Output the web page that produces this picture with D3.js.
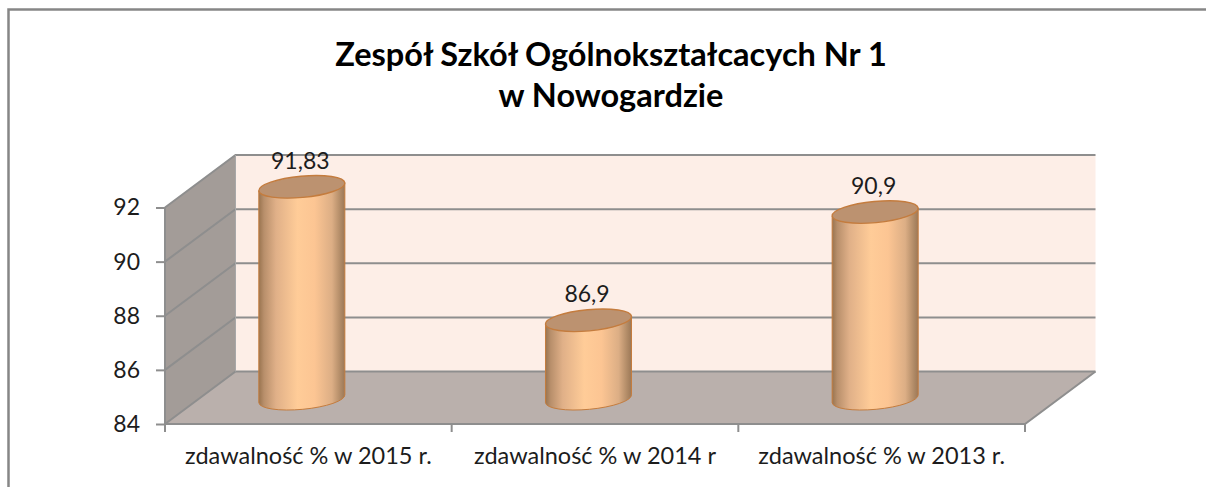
<!DOCTYPE html>
<html><head><meta charset="utf-8">
<style>html,body{margin:0;padding:0;background:#fff}svg{display:block}text{font-family:Lato,"Open Sans",sans-serif;fill:#1c1c1c}</style>
<script src="https://cdn.jsdelivr.net/npm/d3@7"></script>
</head><body>
<svg id="c" width="1206" height="487"></svg>
<script>
const titleLines = ["Zespół Szkół Ogólnokształcacych Nr 1", "w Nowogardzie"];
const categories = ["zdawalność % w 2015 r.", "zdawalność % w 2014 r", "zdawalność % w 2013 r."];
const values = [91.83, 86.9, 90.9];
const valueLabels = ["91,83", "86,9", "90,9"];
const yTicks = [84, 86, 88, 90, 92];

const svg = d3.select("#c");
const W = 1206, H = 487;
const front = {x0:165, x1:1025, y0:424, y1:207.5};
const depth = {dx:70.5, dy:-52.5};
const x = d3.scaleBand().domain(categories).range([front.x0, front.x1]);
const y = d3.scaleLinear().domain([84, 92]).range([front.y0, front.y1]);
const py = (p) => p.map(d => d.join(",")).join(" ");

// gradient
const defs = svg.append("defs");
const g = defs.append("linearGradient").attr("id","cyl").attr("x1",0).attr("x2",1).attr("y1",0).attr("y2",0);
[[0,"#99744f"],[0.06,"#b88f6b"],[0.2,"#e0b088"],[0.45,"#ffcc98"],[0.65,"#fcc593"],[0.85,"#dcae85"],[0.95,"#b08a66"],[1,"#9c7857"]]
  .forEach(s => g.append("stop").attr("offset",s[0]).attr("stop-color",s[1]));

// outer frame
svg.append("path").attr("d",`M8.5,${H} V9.5 H${W}`).attr("fill","none").attr("stroke","#868686").attr("stroke-width",2.5);

// title
const t = svg.append("text").attr("text-anchor","middle").attr("font-weight",700).attr("font-size",32.5);
t.selectAll("tspan").data(titleLines).join("tspan").attr("x",611).attr("y",(d,i)=>66+i*41).text(d=>d).style("fill","#000");

const bx0 = front.x0 + depth.dx, bx1 = front.x1 + depth.dx;
const by = v => y(v) + depth.dy;

// walls
svg.append("polygon").attr("points",py([[bx0,by(84)],[bx1,by(84)],[bx1,by(92)],[bx0,by(92)]])).attr("fill","#fdeee7");
svg.append("polygon").attr("points",py([[front.x0,y(84)],[bx0,by(84)],[bx0,by(92)],[front.x0,y(92)]])).attr("fill","#a39c98");
svg.append("polygon").attr("points",py([[front.x0,y(84)],[front.x1,y(84)],[bx1,by(84)],[bx0,by(84)]])).attr("fill","#bab0ac");

// gridlines
const grid = svg.append("g").attr("fill","none").attr("stroke","#8e8e8e").attr("stroke-width",2);
grid.selectAll("path").data(yTicks).join("path")
  .attr("d",v=>`M${front.x0},${y(v)} L${bx0},${by(v)} H${bx1}`);
grid.append("path").attr("d",`M${front.x0},${y(92)} V${y(84)} H${front.x1} L${bx1},${by(84)}`);
grid.append("path").attr("d",`M${bx0},${by(92)} V${by(84)}`).attr("stroke","#a8a8a8").attr("stroke-width",1);

// y axis
const axisY = d3.axisLeft(y).tickValues(yTicks).tickSize(9).tickPadding(16).tickFormat(d3.format("d"));
const ga = svg.append("g").attr("transform",`translate(${front.x0},0)`).call(axisY);
ga.select(".domain").remove();
ga.selectAll("line").attr("stroke","#8e8e8e").attr("stroke-width",2);
ga.selectAll("text").attr("font-size",23).attr("font-family","Lato").style("fill","#1c1c1c");

// x axis ticks at category boundaries
const bounds = categories.map(c=>x(c)).concat([front.x1]);
svg.append("g").selectAll("line").data(bounds).join("line")
  .attr("x1",d=>d).attr("x2",d=>d).attr("y1",y(84)).attr("y2",y(84)+8)
  .attr("stroke","#8e8e8e").attr("stroke-width",2);
const axisX = d3.axisBottom(x).tickSize(0).tickPadding(23);
const gx = svg.append("g").attr("transform",`translate(0,${y(84)})`).call(axisX);
gx.select(".domain").remove();
gx.selectAll("text").attr("font-size",23.5).attr("font-family","Lato").style("fill","#1c1c1c");

// cylinders
const rx = 43.2, ry = 10.6, tilt = -5.3, shiftX = -6.5, midDy = depth.dy/2 + 1;
const cx = c => x(c) + x.bandwidth()/2 + shiftX;
const cy = v => y(v) + midDy;
const bar = svg.append("g").selectAll("g").data(categories).join("g");
const ca = Math.cos(tilt*Math.PI/180), sa = Math.sin(tilt*Math.PI/180);
bar.append("path").attr("fill","url(#cyl)").attr("stroke","#c47c3e").attr("stroke-width",1)
  .attr("d",(c,i)=>{
    const X=cx(c), t=cy(values[i]), b=cy(84);
    const dx=rx*ca, dy=rx*sa;
    return `M${X-dx},${t-dy} L${X-dx},${b-dy} A${rx},${ry} ${tilt} 0 0 ${X+dx},${b+dy} L${X+dx},${t+dy} Z`;
  });
bar.append("ellipse").attr("rx",rx).attr("ry",ry).attr("fill","#bc9270").attr("stroke","#c47c3e").attr("stroke-width",1.4)
  .attr("transform",(c,i)=>`translate(${cx(c)},${cy(values[i])}) rotate(${tilt})`);
bar.append("text").attr("text-anchor","middle").attr("font-size",23)
  .attr("x",c=>cx(c)-1.5).attr("y",(c,i)=>cy(values[i])-18).text((c,i)=>valueLabels[i]);
</script>
</body></html>
